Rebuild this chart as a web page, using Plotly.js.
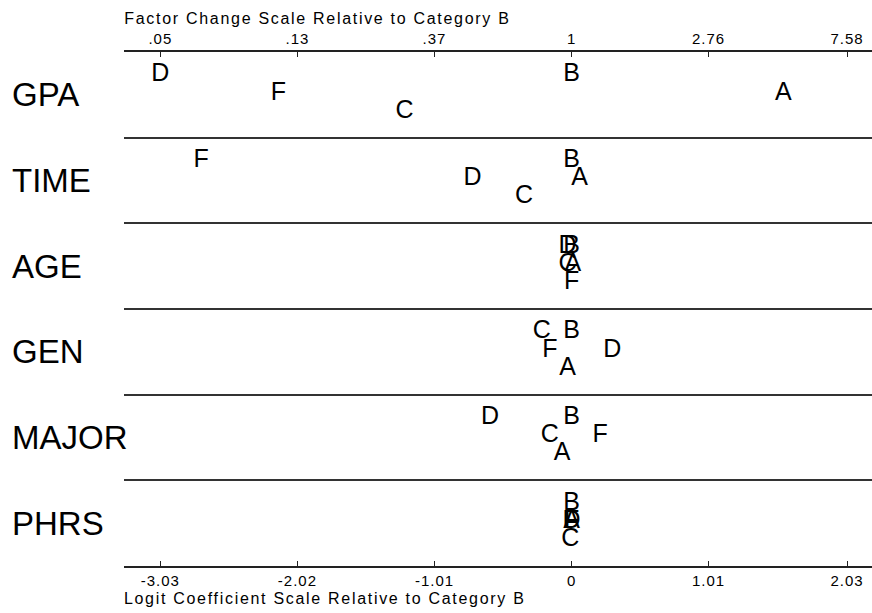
<!DOCTYPE html>
<html>
<head>
<meta charset="utf-8">
<script src="https://cdn.plot.ly/plotly-3.0.1.min.js"></script>
<style>
html,body{margin:0;padding:0;background:#fff;}
#chart{width:872px;height:613px;}
.xtick text, .x2tick text{letter-spacing:1px;}
g.annotation[data-index="6"] text, g.annotation[data-index="7"] text{letter-spacing:1.7px;}
</style>
</head>
<body>
<div id="chart"></div>
<script>
// Variables (rows, top to bottom)
const variables = ['GPA', 'TIME', 'AGE', 'GEN', 'MAJOR', 'PHRS'];
// Outcome categories (plotted letters)
const categories = ['A', 'B', 'C', 'D', 'F'];
// Logit coefficients relative to category B, per variable
const coefA = [1.56, 0.06, 0.01, -0.03, -0.07, 0.00];
const coefB = [0.00, 0.00, 0.00, 0.00, 0.00, 0.00];
const coefC = [-1.23, -0.35, -0.03, -0.22, -0.16, -0.01];
const coefD = [-3.03, -0.73, -0.03, 0.30, -0.60, 0.00];
const coefF = [-2.16, -2.73, 0.00, -0.16, 0.21, 0.00];
// Vertical offset level of each letter within its row (0 = top, 1 = middle, 2 = bottom)
const levelA = [1, 1, 1, 2, 2, 1];
const levelB = [0, 0, 0, 0, 0, 0];
const levelC = [2, 2, 1, 0, 1, 2];
const levelD = [0, 1, 0, 1, 0, 1];
const levelF = [1, 0, 2, 1, 1, 1];
// Axis ticks
const logitTicks = [-3.03, -2.02, -1.01, 0, 1.01, 2.03];
const logitTickText = ['-3.03', '-2.02', '-1.01', '0', '1.01', '2.03'];
const factorTickText = ['.05', '.13', '.37', '1', '2.76', '7.58'];

const coefs = [coefA, coefB, coefC, coefD, coefF];
const levels = [levelA, levelB, levelC, levelD, levelF];
const levelPos = [0.27, 0.485, 0.695];

const FONT = 'Liberation Sans, Arial, sans-serif';

const traces = categories.map((cat, ci) => ({
  type: 'scatter',
  mode: 'text',
  x: coefs[ci],
  y: levels[ci].map((lv, ri) => ri + levelPos[lv]),
  text: variables.map(() => cat),
  textposition: 'middle center',
  textfont: {family: FONT, size: 25, color: '#000'},
  hoverinfo: 'skip',
  showlegend: false,
  xaxis: 'x',
  yaxis: 'y'
}));

// invisible trace to activate the top (factor change) axis
traces.push({
  type: 'scatter', mode: 'markers', x: [0], y: [0.5],
  marker: {opacity: 0}, hoverinfo: 'skip', showlegend: false,
  xaxis: 'x2', yaxis: 'y'
});

const annotations = variables.map((v, ri) => ({
  text: v, xref: 'paper', yref: 'y', x: -0.152, y: ri + 0.5,
  xanchor: 'left', yanchor: 'middle', showarrow: false,
  font: {family: FONT, size: 33, color: '#000'}
}));
annotations.push({
  text: 'Factor Change Scale Relative to Category B',
  xref: 'paper', yref: 'paper', x: 0, y: 1.0, yshift: 34, xshift: 34,
  xanchor: 'left', yanchor: 'middle', showarrow: false,
  font: {family: FONT, size: 16, color: '#000'}
});
annotations.push({
  text: 'Logit Coefficient Scale Relative to Category B',
  xref: 'paper', yref: 'paper', x: 0, y: 0, yshift: -32, xshift: 37,
  xanchor: 'left', yanchor: 'middle', showarrow: false,
  font: {family: FONT, size: 16, color: '#000'}
});

const xrange = [-3.298, 2.214];

const layout = {
  width: 872, height: 613,
  margin: {l: 124, r: 0, t: 52, b: 47, pad: 0},
  paper_bgcolor: '#fff', plot_bgcolor: '#fff',
  showlegend: false,
  xaxis: {
    range: xrange, showgrid: false, zeroline: false,
    showline: true, linecolor: '#222', linewidth: 2,
    ticks: 'inside', ticklen: 5, tickwidth: 1, tickcolor: '#222',
    tickmode: 'array', tickvals: logitTicks, ticktext: logitTickText,
    tickfont: {family: FONT, size: 15, color: '#000'},
    fixedrange: true
  },
  xaxis2: {
    range: xrange, overlaying: 'x', side: 'top', anchor: 'y',
    showgrid: false, zeroline: false,
    showline: true, linecolor: '#222', linewidth: 2,
    ticks: 'inside', ticklen: 5, tickwidth: 1, tickcolor: '#222',
    tickmode: 'array', tickvals: logitTicks, ticktext: factorTickText,
    tickfont: {family: FONT, size: 15, color: '#000'},
    fixedrange: true
  },
  yaxis: {
    range: [6, 0], showgrid: true, gridcolor: '#333', gridwidth: 2,
    tickmode: 'array', tickvals: [1, 2, 3, 4, 5],
    showticklabels: false, ticks: '', zeroline: false, showline: false,
    fixedrange: true
  },
  annotations: annotations
};

Plotly.newPlot('chart', traces, layout, {displayModeBar: false, staticPlot: true});
</script>
</body>
</html>
